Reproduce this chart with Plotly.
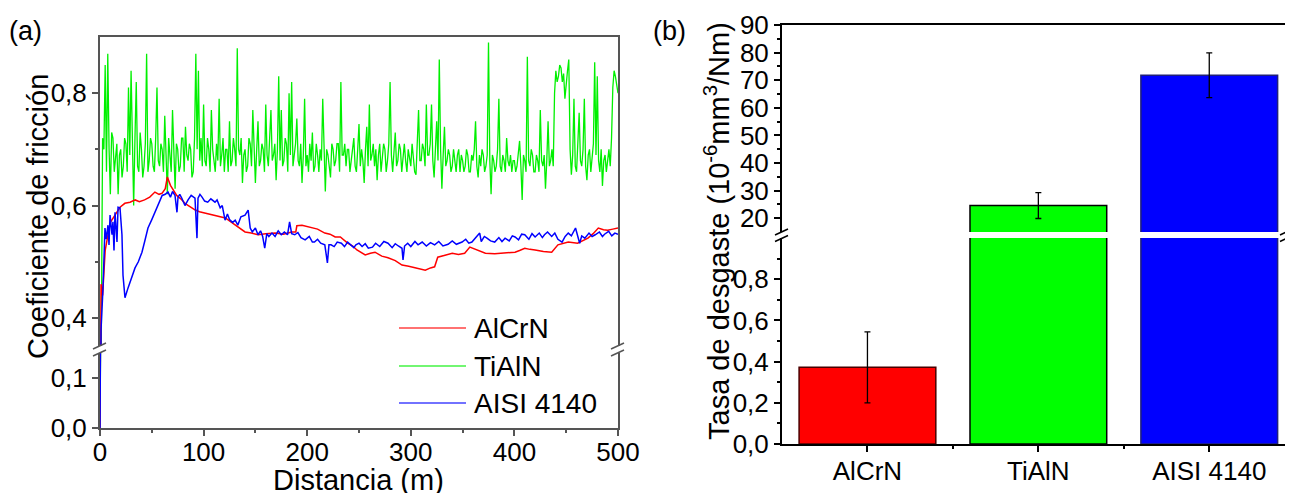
import plotly.graph_objects as go

# the page body adds an 8 px margin, so the figure is the window minus that
OFF = 8
W, H = 1293 - OFF, 493 - OFF
FONT = "Liberation Sans, Arial, sans-serif"

# ---- (a) coefficient of friction vs sliding distance ----
# TiAlN sampled every 1.25 m
cof_tialn = [
    0.00, 0.45, 0.72, 0.70, 0.85, 0.66, 0.87, 0.70, 0.62, 0.73, 0.72, 0.66, 0.69, 0.71, 0.62, 0.69, 0.70, 0.65, 0.67, 0.72,
    0.71, 0.66, 0.81, 0.69, 0.84, 0.70, 0.60, 0.72, 0.82, 0.67, 0.66, 0.73, 0.70, 0.65, 0.67, 0.71, 0.87, 0.66, 0.68, 0.72,
    0.71, 0.67, 0.66, 0.72, 0.81, 0.68, 0.67, 0.71, 0.70, 0.66, 0.76, 0.69, 0.62, 0.72, 0.69, 0.66, 0.77, 0.70, 0.63, 0.71,
    0.70, 0.66, 0.67, 0.72, 0.72, 0.66, 0.74, 0.69, 0.68, 0.71, 0.70, 0.65, 0.66, 0.72, 0.87, 0.70, 0.84, 0.68, 0.72, 0.67,
    0.78, 0.68, 0.67, 0.72, 0.70, 0.66, 0.77, 0.70, 0.68, 0.66, 0.71, 0.68, 0.79, 0.67, 0.69, 0.72, 0.66, 0.70, 0.70, 0.66,
    0.75, 0.67, 0.68, 0.72, 0.70, 0.67, 0.88, 0.70, 0.69, 0.72, 0.64, 0.69, 0.70, 0.66, 0.67, 0.72, 0.71, 0.67, 0.77, 0.69,
    0.64, 0.70, 0.75, 0.67, 0.68, 0.71, 0.70, 0.66, 0.78, 0.69, 0.67, 0.72, 0.77, 0.68, 0.69, 0.71, 0.645, 0.70, 0.83, 0.68,
    0.77, 0.67, 0.68, 0.72, 0.71, 0.66, 0.80, 0.69, 0.82, 0.67, 0.69, 0.71, 0.755, 0.68, 0.67, 0.71, 0.64, 0.69, 0.79, 0.67,
    0.69, 0.66, 0.71, 0.68, 0.73, 0.66, 0.67, 0.71, 0.69, 0.66, 0.70, 0.68, 0.79, 0.69, 0.625, 0.70, 0.69, 0.67, 0.65, 0.71,
    0.70, 0.67, 0.68, 0.71, 0.71, 0.66, 0.82, 0.69, 0.69, 0.71, 0.67, 0.70, 0.70, 0.66, 0.68, 0.71, 0.72, 0.67, 0.66, 0.70,
    0.745, 0.67, 0.70, 0.68, 0.64, 0.70, 0.74, 0.67, 0.78, 0.68, 0.69, 0.71, 0.67, 0.70, 0.645, 0.69, 0.71, 0.66, 0.69, 0.71,
    0.70, 0.66, 0.68, 0.71, 0.82, 0.69, 0.66, 0.70, 0.73, 0.67, 0.68, 0.71, 0.70, 0.66, 0.69, 0.71, 0.68, 0.66, 0.70, 0.68,
    0.67, 0.71, 0.69, 0.66, 0.655, 0.70, 0.77, 0.68, 0.68, 0.71, 0.70, 0.67, 0.78, 0.69, 0.69, 0.71, 0.78, 0.68, 0.65, 0.70,
    0.75, 0.68, 0.86, 0.70, 0.63, 0.69, 0.74, 0.67, 0.68, 0.70, 0.69, 0.66, 0.67, 0.70, 0.68, 0.66, 0.69, 0.70, 0.66, 0.69,
    0.68, 0.66, 0.67, 0.70, 0.69, 0.66, 0.66, 0.69, 0.68, 0.70, 0.75, 0.67, 0.65, 0.69, 0.67, 0.70, 0.69, 0.66, 0.67, 0.69,
    0.89, 0.68, 0.62, 0.69, 0.68, 0.66, 0.67, 0.70, 0.79, 0.67, 0.66, 0.69, 0.68, 0.66, 0.72, 0.68, 0.67, 0.69, 0.66, 0.68,
    0.68, 0.66, 0.67, 0.69, 0.715, 0.67, 0.61, 0.69, 0.68, 0.66, 0.865, 0.68, 0.67, 0.70, 0.69, 0.66, 0.66, 0.69, 0.68, 0.66,
    0.77, 0.68, 0.67, 0.69, 0.63, 0.68, 0.75, 0.67, 0.68, 0.70, 0.67, 0.80, 0.84, 0.82, 0.83, 0.85, 0.845, 0.82, 0.835, 0.79,
    0.825, 0.84, 0.86, 0.70, 0.655, 0.69, 0.79, 0.67, 0.66, 0.71, 0.765, 0.68, 0.67, 0.70, 0.79, 0.67, 0.645, 0.69, 0.70, 0.66,
    0.68, 0.71, 0.855, 0.69, 0.83, 0.68, 0.66, 0.70, 0.635, 0.68, 0.69, 0.66, 0.68, 0.70, 0.67, 0.72, 0.81, 0.84, 0.83, 0.81,
    0.80,
]
dist_tialn = [i * 1.25 for i in range(len(cof_tialn))]

dist_alcrn = [0, 1, 2.5, 5, 7.7, 10, 14.5, 19.3, 24, 29, 34, 38, 43, 48, 53, 57,
              60, 63, 65, 68, 74, 78, 82, 87, 92, 96, 101, 106, 111, 116, 121,
              127, 133, 140, 146, 152.5, 160, 169, 177, 185, 189, 190, 195, 201,
              210, 217, 222, 227, 232, 239, 244, 248, 256, 261, 265.5, 272, 278,
              285, 291.5, 298, 304, 309, 314, 319, 323, 326, 333, 340, 346, 352,
              357, 365, 372, 381, 391, 400.6, 405, 410, 415, 420, 428, 436, 442,
              447, 452, 461, 466, 471, 476, 481, 486, 490, 495, 500]
cof_alcrn = [0.00, 0.46, 0.44, 0.52, 0.548, 0.57, 0.583, 0.597, 0.604, 0.606, 0.61,
             0.607, 0.61, 0.615, 0.624, 0.62, 0.622, 0.63, 0.651, 0.636, 0.618,
             0.612, 0.604, 0.598, 0.592, 0.589, 0.587, 0.584, 0.583, 0.58, 0.578,
             0.57, 0.562, 0.553, 0.551, 0.548, 0.55, 0.551, 0.549, 0.553, 0.553,
             0.564, 0.565, 0.562, 0.558, 0.551, 0.549, 0.544, 0.544, 0.533, 0.528,
             0.521, 0.512, 0.515, 0.517, 0.51, 0.507, 0.502, 0.494, 0.492, 0.489,
             0.487, 0.485, 0.489, 0.491, 0.508, 0.511, 0.515, 0.513, 0.515, 0.526,
             0.52, 0.515, 0.514, 0.515, 0.517, 0.52, 0.524, 0.522, 0.521, 0.518,
             0.517, 0.530, 0.532, 0.535, 0.533, 0.537, 0.542, 0.55, 0.560, 0.557,
             0.556, 0.558, 0.560]

dist_aisi = [0, 1, 2.9, 4.8, 6, 7.7, 8.7, 9.7, 11.6, 12.5, 13.5, 14.5, 16.4, 17.4,
             19.3, 20.3, 21.2, 22.2, 24.1, 27, 30, 33.8, 37, 40.5, 43, 46.3, 50, 53,
             56, 60, 63, 65.6, 68, 70, 72.4, 74.3, 75.3, 77, 79, 82, 85, 88, 91.7,
             93.6, 94.6, 96.5, 98.5, 101, 104, 107, 111, 113, 116, 118, 120.7, 123,
             125, 128, 130.5, 133, 136, 140, 143, 145, 147, 150, 152.5, 155, 157,
             159, 161, 163, 166, 169, 172, 175, 178, 181, 183, 185, 188, 191, 194,
             198, 202, 205, 207, 210, 213, 217, 219.5, 221, 223, 226, 229, 233, 236,
             239, 242, 245, 247, 250, 253, 256, 259, 263, 266, 270, 274, 278, 282,
             285, 288, 291.5, 292.5, 294, 297, 300, 304, 307, 311, 315, 319, 323,
             327, 331, 336, 340, 344, 349.5, 353, 356, 359, 362, 366.5, 368, 371,
             373.5, 377, 381, 385, 388, 391, 395, 398, 400.6, 404, 407, 410, 414,
             417, 420, 424, 427, 429, 432, 436, 439, 442, 446, 449, 452, 455, 459,
             461, 463, 465, 468, 472, 475, 478, 482, 485, 487, 491, 494, 497, 500]
cof_aisi = [0.0, 0.38, 0.453, 0.56, 0.54, 0.565, 0.53, 0.583, 0.548, 0.571, 0.52,
            0.588, 0.535, 0.597, 0.596, 0.56, 0.548, 0.476, 0.436, 0.453, 0.47,
            0.489, 0.50, 0.517, 0.535, 0.56, 0.575, 0.588, 0.60, 0.618, 0.62, 0.624,
            0.615, 0.625, 0.618, 0.588, 0.615, 0.62, 0.613, 0.60, 0.61, 0.618, 0.613,
            0.542, 0.613, 0.62, 0.615, 0.608, 0.606, 0.612, 0.606, 0.61, 0.596, 0.60,
            0.574, 0.585, 0.575, 0.57, 0.574, 0.565, 0.58, 0.583, 0.592, 0.56, 0.553,
            0.56, 0.548, 0.555, 0.545, 0.524, 0.55, 0.545, 0.551, 0.545, 0.555, 0.548,
            0.553, 0.548, 0.571, 0.55, 0.548, 0.552, 0.543, 0.539, 0.545, 0.535,
            0.535, 0.54, 0.533, 0.53, 0.498, 0.53, 0.53, 0.527, 0.535, 0.533, 0.527,
            0.535, 0.53, 0.525, 0.53, 0.533, 0.527, 0.532, 0.524, 0.526, 0.533, 0.527,
            0.536, 0.533, 0.525, 0.532, 0.528, 0.524, 0.503, 0.528, 0.533, 0.527,
            0.536, 0.53, 0.535, 0.528, 0.534, 0.53, 0.536, 0.528, 0.531, 0.537, 0.531,
            0.535, 0.54, 0.533, 0.535, 0.541, 0.551, 0.536, 0.545, 0.542, 0.537,
            0.535, 0.543, 0.536, 0.542, 0.537, 0.546, 0.544, 0.539, 0.549, 0.548,
            0.54, 0.55, 0.544, 0.551, 0.543, 0.548, 0.553, 0.545, 0.551, 0.54, 0.535,
            0.545, 0.551, 0.546, 0.560, 0.545, 0.533, 0.546, 0.542, 0.551, 0.545,
            0.548, 0.553, 0.545, 0.549, 0.554, 0.546, 0.551, 0.549]

# ---- (b) wear rate ----
materials = ["AlCrN", "TiAlN", "AISI 4140"]
wear_rate = [0.372, 24.6, 71.8]
wear_err = [0.172, 4.7, 8.1]

line_series = [
    ("AlCrN", dist_alcrn, cof_alcrn, "#ff0000", 1.5),
    ("TiAlN", dist_tialn, cof_tialn, "#00f000", 1.3),
    ("AISI 4140", dist_aisi, cof_aisi, "#0000ff", 1.5),
]
bar_colors = ["#ff0000", "#00ff00", "#0000ff"]
bar_edges = ["#4a0000", "#000000", "#20207a"]


# positions below are measured in window pixels of the target picture
def px_x(x):
    return (x - OFF) / W


def px_y(y):
    return 1 - (y - OFF) / H


fig = go.Figure()

# lines drawn into both halves of the broken axis
for name, xs, ys, col, lw in [line_series[1], line_series[0], line_series[2]]:
    for xa, ya in (("x", "y"), ("x2", "y2")):
        fig.add_trace(go.Scatter(x=xs, y=ys, mode="lines", name=name,
                                 line=dict(color=col, width=lw),
                                 xaxis=xa, yaxis=ya, showlegend=False))

pos = list(range(1, len(materials) + 1))
for xa, ya in (("x3", "y3"), ("x4", "y4")):
    fig.add_trace(go.Bar(x=pos, y=wear_rate, width=0.8,
                         marker=dict(color=bar_colors, line=dict(color=bar_edges, width=1.5)),
                         error_y=dict(type="data", array=wear_err, color="black",
                                      thickness=1.3, width=3),
                         xaxis=xa, yaxis=ya, showlegend=False))

tickfont = dict(family=FONT, size=26, color="black")
grey = "#555555"
common = dict(showgrid=False, zeroline=False, showline=True, tickfont=tickfont,
              ticks="outside", ticklen=6, tickwidth=1.5, automargin=False)
plain = dict(showgrid=False, zeroline=False, showline=True, linewidth=2,
             showticklabels=False, ticks="", side="top", automargin=False)

xa_dom = [px_x(100), px_x(618)]
xb_dom = [px_x(782), 1.0]

fig.update_layout(
    width=W, height=H,
    margin=dict(l=0, r=0, t=0, b=0, pad=0, autoexpand=False),
    paper_bgcolor="white", plot_bgcolor="white",
    separators=",.",
    showlegend=False,
    font=dict(family=FONT, color="black"),
    xaxis=dict(domain=xa_dom, anchor="y", range=[0, 500], dtick=100,
               linecolor=grey, linewidth=2, tickcolor=grey, ticklabelstandoff=-6,
               minor=dict(dtick=50, ticks="outside", ticklen=3, tickcolor=grey), **common),
    yaxis=dict(domain=[px_y(428), px_y(353)], anchor="x", range=[0, 0.15],
               tickvals=[0, 0.1], tickformat=".1f", mirror=True,
               linecolor=grey, linewidth=2, tickcolor=grey, **common),
    xaxis2=dict(domain=xa_dom, anchor="y2", range=[0, 500], linecolor=grey, **plain),
    yaxis2=dict(domain=[px_y(346), px_y(37)], anchor="x2", range=[0.35, 0.9],
                tickvals=[0.4, 0.6, 0.8], tickformat=".1f", mirror=True,
                linecolor=grey, linewidth=2, tickcolor=grey,
                minor=dict(tickvals=[0.5, 0.7], ticks="outside", ticklen=3, tickcolor=grey),
                **common),
    xaxis3=dict(domain=xb_dom, anchor="y3", range=[0.5, 3.49],
                tickvals=pos, ticktext=materials, linecolor="black", linewidth=2,
                tickcolor="black", ticklabelstandoff=-3,
                minor=dict(tickvals=[1.5, 2.5], ticks="outside", ticklen=3, tickcolor="black"),
                **common),
    yaxis3=dict(domain=[px_y(444), px_y(238)], anchor="x3", range=[0, 1.0],
                tickvals=[0, 0.2, 0.4, 0.6, 0.8], tickformat=".1f",
                linecolor="black", linewidth=2, tickcolor="black",
                minor=dict(tickvals=[0.1, 0.3, 0.5, 0.7, 0.9], ticks="outside",
                           ticklen=3, tickcolor="black"),
                **common),
    xaxis4=dict(domain=xb_dom, anchor="y4", range=[0.5, 3.49], linecolor="black", **plain),
    yaxis4=dict(domain=[px_y(232), px_y(25)], anchor="x4", range=[15, 90],
                tickvals=list(range(20, 100, 10)),
                linecolor="black", linewidth=2, tickcolor="black",
                minor=dict(tickvals=list(range(25, 90, 10)), ticks="outside",
                           ticklen=3, tickcolor="black"),
                **common),
)

# axis break marks
shapes = []
for (cx, cy1, cy2, col) in [(100, 346, 353, grey), (618, 346, 353, grey),
                            (782, 232, 238.5, "black"), (1287, 232, 238.5, "black")]:
    for cy in (cy1, cy2):
        shapes.append(dict(type="line", xref="paper", yref="paper",
                           x0=px_x(cx - 7), y0=px_y(cy + 3), x1=px_x(cx + 6), y1=px_y(cy - 3),
                           line=dict(color=col, width=1.5)))

# legend for panel (a)
ann = []
for k, (name, _, _, col, _) in enumerate(line_series):
    yc = [328, 366, 403][k]
    shapes.append(dict(type="line", xref="paper", yref="paper",
                       x0=px_x(399), x1=px_x(466), y0=px_y(yc), y1=px_y(yc),
                       line=dict(color=col, width=2), opacity=0.55))
    ann.append(dict(text=name, x=px_x(472), y=px_y(yc), xanchor="left",
                    font=dict(family=FONT, size=28, color="black")))

title_font = dict(family=FONT, size=29, color="black")
ann += [
    dict(text="Coeficiente de fricción", x=px_x(38), y=px_y(217), textangle=-90,
         font=title_font),
    dict(text="Distancia (m)", x=px_x(359), y=px_y(480), font=title_font),
    dict(text="Tasa de desgaste (10<sup>-6</sup>mm<sup>3</sup>/Nm)", x=px_x(717),
         y=px_y(231), textangle=-90, font=title_font),
    dict(text="(a)", x=px_x(25), y=px_y(31), font=dict(family=FONT, size=27, color="black")),
    dict(text="(b)", x=px_x(670), y=px_y(31), font=dict(family=FONT, size=27, color="black")),
]
for a in ann:
    a.setdefault("xref", "paper")
    a.setdefault("yref", "paper")
    a.setdefault("showarrow", False)
    a.setdefault("xanchor", "center")
    a.setdefault("yanchor", "middle")

fig.update_layout(shapes=shapes, annotations=ann)

fig.write_html("out.html")
